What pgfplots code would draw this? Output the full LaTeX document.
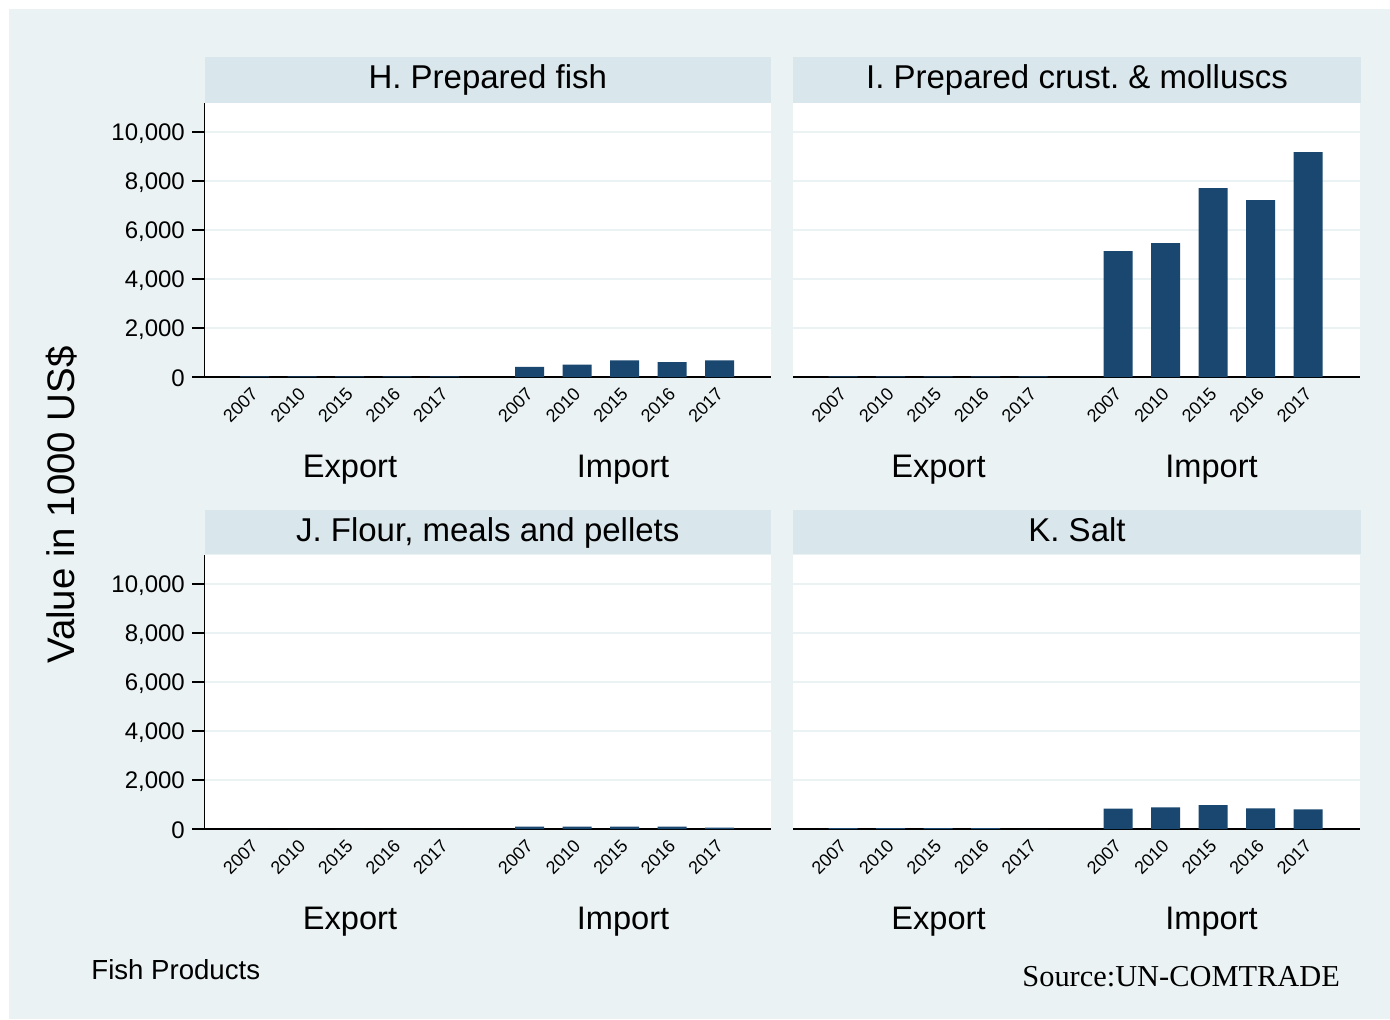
\documentclass[border=0pt]{standalone}
\usepackage{fontspec}
\setmainfont{Liberation Sans}
\newfontfamily\srcfont{Liberation Serif}
\usepackage{pgfplots}
\pgfplotsset{compat=1.18}
\frenchspacing

\definecolor{bgc}{RGB}{234,242,243}
\definecolor{stripc}{RGB}{217,230,235}
\definecolor{barc}{RGB}{26,71,111}
\definecolor{gridc}{RGB}{234,242,243}

% one unit = one pixel of the 1390x1019 reference (0.5pt)
\pgfplotsset{
  panel/.style={
    scale only axis, width=283.25pt, height=137.25pt,
    xmin=-1.055, xmax=10.87, ymin=0, ymax=11210,
    axis x line*=bottom, axis y line*=left,
    axis line style={-},
    x axis line style={line width=1pt},
    y axis line style={line width=0.75pt},
    axis background/.style={fill=white},
    ybar, bar width=0.61,
    xtick={0,1,2,3,4,5.79,6.79,7.79,8.79,9.79},
    xticklabels={2007,2010,2015,2016,2017,2007,2010,2015,2016,2017},
    xticklabel style={xshift=2.5pt, yshift=1.8pt, rotate=45, anchor=east,
      font=\fontsize{9}{10}\selectfont},
    major x tick style={draw=none},
    ytick={0,2000,4000,6000,8000,10000},
    ymajorgrids, grid style={gridc, line width=1pt},
    scaled y ticks=false,
    /pgf/number format/1000 sep={,},
    /pgf/number format/assume math mode=true,
    yticklabel style={font=\fontsize{12}{14}\selectfont, yshift=-0.8pt},
    tick align=outside, major tick length=6.3pt,
    major y tick style={black, line width=0.75pt},
  },
  rightpanel/.style={
    y axis line style={draw=none},
    yticklabels={},
    major y tick style={draw=none},
  },
}

\begin{document}
\begin{tikzpicture}[x=0.5pt, y=0.5pt]
\useasboundingbox (0,0) rectangle (1390,-1019);
\fill[white] (0,0) rectangle (1390,-1019);
\fill[bgc] (9,-9) rectangle (1390,-1019);

% strips
\fill[stripc] (204.5,-57) rectangle (771,-102.5);
\fill[stripc] (793,-57) rectangle (1361,-102.5);
\fill[stripc] (204.5,-509.5) rectangle (771,-554);
\fill[stripc] (793,-509.5) rectangle (1361,-554);
\begin{scope}[every node/.style={anchor=base, font=\fontsize{16.5}{19}\selectfont}]
\node at (487.75,-88.5) {H. Prepared fish};
\node at (1077,-88.5) {I. Prepared crust. \& molluscs};
\node at (487.75,-541) {J. Flour, meals and pellets};
\node at (1077,-541) {K. Salt};
\end{scope}

% H. Prepared fish
\begin{axis}[panel, at={(102.25pt,-188.5pt)}, anchor=south west]
\addplot[fill=barc, draw=none] coordinates {(0,30) (1,30) (2,30) (3,30) (4,30)
  (5.79,410) (6.79,510) (7.79,680) (8.79,610) (9.79,680)};
\end{axis}

% I. Prepared crust. & molluscs
\begin{axis}[panel, rightpanel, at={(396.5pt,-188.5pt)}, anchor=south west]
\addplot[fill=barc, draw=none] coordinates {(0,30) (1,30) (2,30) (3,30) (4,30)
  (5.79,5140) (6.79,5470) (7.79,7710) (8.79,7220) (9.79,9180)};
\end{axis}

% J. Flour, meals and pellets
\begin{axis}[panel, at={(102.25pt,-414.5pt)}, anchor=south west]
\addplot[fill=barc, draw=none] coordinates {(0,0) (1,0) (2,0) (3,0) (4,0)
  (5.79,100) (6.79,100) (7.79,100) (8.79,100) (9.79,60)};
\end{axis}

% K. Salt
\begin{axis}[panel, rightpanel, at={(396.5pt,-414.5pt)}, anchor=south west]
\addplot[fill=barc, draw=none] coordinates {(0,40) (1,40) (2,40) (3,40) (4,0)
  (5.79,830) (6.79,880) (7.79,980) (8.79,840) (9.79,800)};
\end{axis}

% group labels
\foreach \dx/\dy in {0/0, 588.5/0, 0/452, 588.5/452} {
  \node[anchor=base, font=\fontsize{16.3}{19}\selectfont] at (350+\dx,-477.5-\dy) {Export};
  \node[anchor=base, font=\fontsize{16.3}{19}\selectfont] at (623+\dx,-477.5-\dy) {Import};
}

\node[rotate=90, font=\fontsize{19.2}{22}\selectfont] at (62,-505) {Value in 1000 US\$};
\node[anchor=west, inner sep=0, font=\fontsize{13.8}{16}\selectfont] at (91,-970) {Fish Products};
\node[anchor=west, inner sep=0, font=\srcfont\fontsize{15.2}{18}\selectfont] at (1022,-977) {Source:UN-COMTRADE};
\end{tikzpicture}
\end{document}
